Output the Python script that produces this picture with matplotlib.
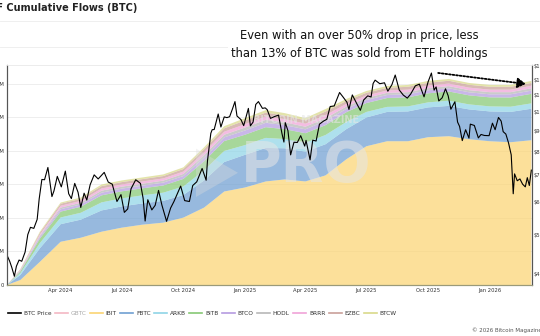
import pandas as pd
import matplotlib
matplotlib.use("Agg")
import matplotlib.pyplot as plt
import matplotlib.dates as mdates
from matplotlib.ticker import FixedLocator, FuncFormatter, NullLocator
from matplotlib.lines import Line2D
from matplotlib.patches import Polygon

# cumulative holdings per ETF, thousands of BTC
flow_dates = ["2024-01-12", "2024-02-01", "2024-03-01", "2024-04-01", "2024-05-01", "2024-06-01",
              "2024-07-01", "2024-08-01", "2024-09-01", "2024-10-01", "2024-11-01", "2024-12-01",
              "2025-01-01", "2025-02-01", "2025-03-01", "2025-04-01", "2025-05-01", "2025-06-01",
              "2025-07-01", "2025-08-01", "2025-09-01", "2025-10-01", "2025-11-01", "2025-12-01",
              "2026-01-01", "2026-02-01", "2026-03-04"]
ibit = [0, 30, 138, 258, 282, 318, 342, 360, 372, 402, 462, 558, 582, 618, 630, 618, 654, 750,
        828, 858, 858, 882, 888, 870, 858, 852, 864]
fbtc = [0, 30, 81, 105, 108, 127, 127, 127, 130, 135, 162, 176, 195, 200, 186, 178, 186, 180,
        172, 175, 178, 178, 181, 178, 178, 181, 188]
arkb = [0, 11, 31, 40, 41, 48, 48, 48, 49, 51, 61, 66, 58, 60, 55, 53, 55, 43,
        33, 30, 30, 30, 31, 30, 30, 31, 32]
bitb = [0, 10, 27, 35, 36, 42, 42, 42, 43, 45, 54, 59, 62, 64, 59, 57, 59, 58,
        53, 53, 54, 54, 55, 54, 54, 55, 57]
btco = [0, 4, 10, 14, 14, 16, 16, 16, 17, 17, 21, 22, 25, 26, 24, 23, 24, 20,
        18, 18, 18, 18, 19, 18, 18, 19, 19]
hodl = [0, 3, 7, 10, 10, 12, 12, 12, 12, 13, 15, 16, 18, 18, 17, 16, 17, 14,
        13, 13, 13, 13, 13, 13, 13, 13, 14]
brrr = [0, 3, 8, 11, 11, 13, 13, 13, 13, 14, 17, 18, 20, 20, 19, 18, 19, 16,
        14, 14, 15, 15, 15, 15, 15, 15, 15]
ezbc = [0, 3, 9, 12, 12, 14, 14, 14, 14, 15, 18, 20, 22, 23, 21, 20, 21, 17,
        16, 16, 17, 17, 17, 17, 17, 17, 17]
btcw = [0, 2, 7, 7, 8, 10, 10, 10, 10, 10, 12, 13, 14, 15, 15, 13, 15, 12,
        11, 11, 11, 11, 11, 11, 11, 11, 12]

# BTC price, thousands of USD
price_dates = [
    "2024-01-12", "2024-01-16", "2024-01-19", "2024-01-23", "2024-01-26", "2024-01-30", "2024-02-03",
    "2024-02-08", "2024-02-12", "2024-02-16", "2024-02-21", "2024-02-26", "2024-02-29", "2024-03-04",
    "2024-03-08", "2024-03-13", "2024-03-19", "2024-03-22", "2024-03-27", "2024-04-02", "2024-04-08",
    "2024-04-13", "2024-04-17", "2024-04-22", "2024-04-27", "2024-05-01", "2024-05-06", "2024-05-10",
    "2024-05-15", "2024-05-21", "2024-05-27", "2024-06-05", "2024-06-11", "2024-06-17", "2024-06-24",
    "2024-06-30", "2024-07-05", "2024-07-10", "2024-07-15", "2024-07-22", "2024-07-29", "2024-08-02",
    "2024-08-05", "2024-08-09", "2024-08-15", "2024-08-20", "2024-08-25", "2024-08-30", "2024-09-06",
    "2024-09-12", "2024-09-17", "2024-09-23", "2024-09-27", "2024-10-03", "2024-10-10", "2024-10-15",
    "2024-10-21", "2024-10-29", "2024-11-04", "2024-11-06", "2024-11-11", "2024-11-13", "2024-11-16",
    "2024-11-22", "2024-11-26", "2024-12-01", "2024-12-05", "2024-12-09", "2024-12-13", "2024-12-17",
    "2024-12-20", "2024-12-26", "2024-12-30", "2025-01-06", "2025-01-09", "2025-01-13", "2025-01-17",
    "2025-01-21", "2025-01-27", "2025-01-31", "2025-02-03", "2025-02-08", "2025-02-14", "2025-02-20",
    "2025-02-25", "2025-02-28", "2025-03-02", "2025-03-06", "2025-03-10", "2025-03-15", "2025-03-20",
    "2025-03-25", "2025-03-31", "2025-04-02", "2025-04-08", "2025-04-12", "2025-04-17", "2025-04-22",
    "2025-04-28", "2025-05-03", "2025-05-08", "2025-05-14", "2025-05-22", "2025-05-27", "2025-06-02",
    "2025-06-05", "2025-06-10", "2025-06-17", "2025-06-22", "2025-06-27", "2025-07-03", "2025-07-08",
    "2025-07-11", "2025-07-14", "2025-07-21", "2025-07-28", "2025-08-02", "2025-08-08", "2025-08-13",
    "2025-08-19", "2025-08-25", "2025-08-31", "2025-09-05", "2025-09-12", "2025-09-18", "2025-09-25",
    "2025-10-01", "2025-10-06", "2025-10-10", "2025-10-13", "2025-10-17", "2025-10-22", "2025-10-27",
    "2025-10-31", "2025-11-04", "2025-11-10", "2025-11-14", "2025-11-17", "2025-11-21", "2025-11-26",
    "2025-12-01", "2025-12-03", "2025-12-09", "2025-12-15", "2025-12-19", "2025-12-24", "2025-12-31",
    "2026-01-05", "2026-01-09", "2026-01-14", "2026-01-18", "2026-01-21", "2026-01-25", "2026-01-29",
    "2026-02-02", "2026-02-05", "2026-02-07", "2026-02-11", "2026-02-15", "2026-02-19", "2026-02-23",
    "2026-02-26", "2026-03-01", "2026-03-04"]
btc_price = [
    44.5, 43.0, 41.6, 39.5, 41.8, 43.3, 43.0,
    45.3, 50.0, 52.1, 51.8, 54.5, 61.2, 68.3,
    68.2, 73.1, 62.0, 64.0, 69.5, 65.5, 71.6,
    63.0, 61.3, 66.8, 63.5, 58.3, 63.2, 60.8,
    66.3, 70.1, 68.5, 71.1, 67.3, 66.5, 60.3,
    62.7, 56.7, 57.8, 64.8, 68.2, 66.8, 61.4,
    54.0, 60.9, 57.5, 59.0, 64.2, 59.1, 53.9,
    58.1, 60.3, 63.6, 65.8, 60.6, 60.3, 66.0,
    67.4, 72.7, 68.0, 75.9, 88.7, 90.5, 90.6,
    98.9, 91.9, 97.3, 96.9, 97.4, 101.5, 106.1,
    97.8, 95.8, 92.6, 102.1, 92.5, 94.5, 104.4,
    106.1, 102.1, 102.4, 101.4, 96.5, 97.5, 98.3,
    88.7, 84.4, 94.2, 90.0, 78.5, 84.3, 84.2,
    87.5, 82.5, 85.2, 76.3, 85.3, 84.9, 93.4,
    95.0, 96.0, 103.2, 103.5, 111.7, 109.0, 105.7,
    101.5, 110.2, 104.6, 101.0, 107.1, 109.6, 108.9,
    117.5, 119.8, 117.4, 118.0, 112.5, 116.7, 123.3,
    113.3, 110.1, 108.2, 110.7, 116.0, 117.1, 109.0,
    118.6, 124.7, 113.2, 115.3, 106.5, 108.4, 114.1,
    109.6, 101.6, 106.0, 94.5, 92.2, 85.1, 90.5,
    86.3, 93.4, 92.7, 86.4, 88.1, 87.6, 87.5,
    93.9, 90.5, 97.0, 95.0, 89.5, 88.3, 84.0,
    78.5, 63.0, 70.5, 67.8, 68.5, 66.5, 65.5,
    69.0, 66.0, 72.0]

etf_names = ["IBIT", "FBTC", "ARKB", "BITB", "BTCO", "HODL", "BRRR", "EZBC", "BTCW"]
etf_colors = ["#fbd473", "#6f9fd2", "#8fd4e6", "#86c874", "#b59be0", "#b8b8b8",
              "#f0a3d8", "#c9a099", "#d9d98a"]

left_ticks = [0, 200, 400, 600, 800, 1000, 1200]
right_ticks = [40, 50, 60, 70, 80, 90, 100, 110, 120, 130]

fd = pd.to_datetime(flow_dates)
pd_dates = pd.to_datetime(price_dates)

W, H = 540, 336
fig = plt.figure(figsize=(W / 100, H / 100), dpi=100)
ax = fig.add_axes([7 / W, 1 - 285 / H, (532 - 7) / W, (285 - 65) / H])

ax.stackplot(fd, ibit, fbtc, arkb, bitb, btco, hodl, brrr, ezbc, btcw,
             colors=etf_colors, alpha=0.72, linewidth=0)
ax.set_ylim(0, 1313)
ax.set_xlim(pd.Timestamp("2024-01-12"), pd.Timestamp("2026-03-05"))
ax.yaxis.set_major_locator(FixedLocator(left_ticks))
ax.yaxis.set_major_formatter(FuncFormatter(lambda v, p: "0" if v == 0 else f"{v / 1000:.1f}M"))
ax.grid(axis="y", color="#ebebeb", linewidth=0.6)
ax.set_axisbelow(True)
ax.xaxis.set_major_locator(mdates.MonthLocator(bymonth=[1, 4, 7, 10]))
ax.xaxis.set_major_formatter(mdates.DateFormatter("%b %Y"))
ax.tick_params(axis="x", length=0, pad=2, labelsize=3.8, labelcolor="#333333")
ax.tick_params(axis="y", length=0, pad=2, labelsize=3.8, labelcolor="#333333")

ax2 = ax.twinx()
ax2.plot(pd_dates, btc_price, color="black", linewidth=0.8)
ax2.set_yscale("log")
ax2.set_ylim(37.6, 130.5)
ax2.yaxis.set_major_locator(FixedLocator(right_ticks))
ax2.yaxis.set_minor_locator(NullLocator())
ax2.yaxis.set_major_formatter(FuncFormatter(lambda v, p: f"${v:.0f}K"))
ax2.tick_params(axis="y", length=0, pad=1.2, labelsize=3.8, labelcolor="#333333")

for a in (ax, ax2):
    a.spines["left"].set_color("#555555")
    a.spines["right"].set_color("#555555")
    a.spines["top"].set_color("#ececec")
    a.spines["bottom"].set_color("#9a9a7a")
    a.spines["top"].set_linewidth(0.6)

# dotted trend arrow over the price peak
ax2.annotate("", xy=(pd.Timestamp("2026-02-28"), 117), xytext=(pd.Timestamp("2025-10-12"), 125),
             arrowprops=dict(arrowstyle="-|>,head_length=0.5,head_width=0.3", color="black",
                             linestyle=(0, (1, 1)), linewidth=1.3))

# watermark
ax.add_patch(Polygon([(0.36, 0.40), (0.36, 0.62), (0.44, 0.51)], closed=True,
                     transform=ax.transAxes, facecolor="#dddddd", edgecolor="none", alpha=0.35))
ax.text(0.57, 0.75, "BITCOIN MAGAZINE", transform=ax.transAxes, ha="center", va="center",
        fontsize=7, fontweight="bold", color="#e6e6e6", alpha=0.6)
ax.text(0.57, 0.54, "PRO", transform=ax.transAxes, ha="center", va="center",
        fontsize=40, fontweight="bold", color="#e6e6e6", alpha=0.55)

for yy in (20.7, 47.3):
    fig.add_artist(Line2D([0, 1], [1 - yy / H] * 2, color="#ececec", linewidth=0.6))

fig.text(137 / W, 1 - 8 / H, "ETF Cumulative Flows (BTC)", ha="right", va="center",
         fontsize=7, fontweight="bold", color="#222222")
fig.text(359 / W, 1 - 44.5 / H,
         "Even with an over 50% drop in price, less\nthan 13% of BTC was sold from ETF holdings",
         ha="center", va="center", fontsize=8.3, linespacing=1.45, color="#111111",
         bbox=dict(facecolor="white", edgecolor="none", pad=2))
fig.text(472 / W, 1 - 330 / H, "© 2026 Bitcoin Magazine Pro", ha="left", va="center",
         fontsize=4.0, color="#555555")

handles = [Line2D([], [], color="black", linewidth=1.2),
           Line2D([], [], color="#f4b8c4", linewidth=1.2)]
handles += [Line2D([], [], color=c, linewidth=1.2) for c in etf_colors]
labels = ["BTC Price", "GBTC"] + etf_names
leg = fig.legend(handles, labels, loc="center left", bbox_to_anchor=(8 / W, 1 - 313 / H),
                 ncol=11, frameon=False, fontsize=4.2, handlelength=2.2, handletextpad=0.5,
                 columnspacing=0.6, borderpad=0, borderaxespad=0)
for t in leg.get_texts():
    t.set_color("#333333")
leg.get_texts()[1].set_color("#aaaaaa")

fig.savefig("out.png", dpi=100)
